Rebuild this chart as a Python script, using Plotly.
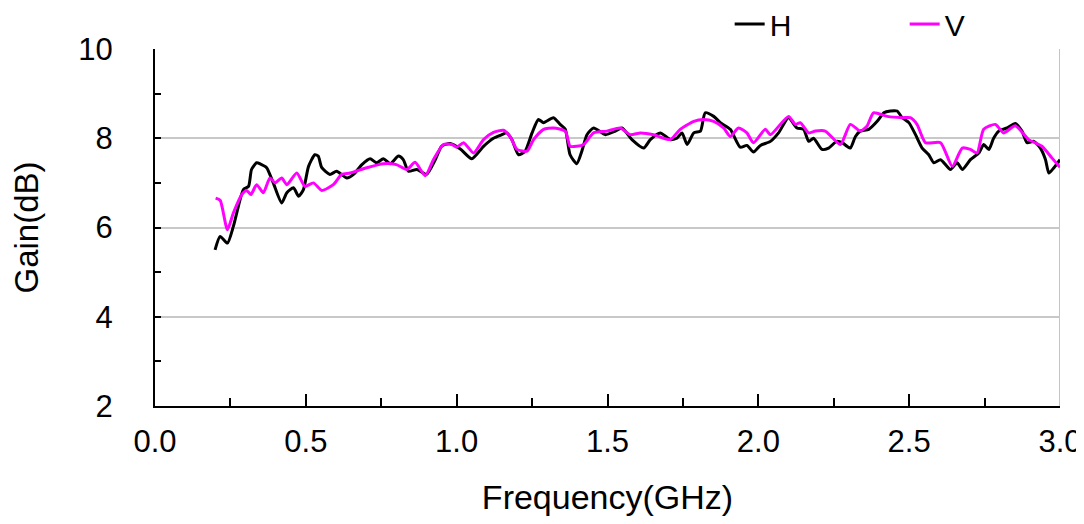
import plotly.graph_objects as go

freq_h = [0.199, 0.216, 0.240, 0.260, 0.293, 0.310, 0.320, 0.337, 0.350, 0.370,
          0.392, 0.420, 0.437, 0.459, 0.476, 0.492, 0.509, 0.530, 0.541, 0.553,
          0.580, 0.602, 0.636, 0.658, 0.686, 0.713, 0.735, 0.757, 0.780, 0.807,
          0.823, 0.840, 0.868, 0.900, 0.929, 0.950, 0.978, 1.012, 1.050, 1.089,
          1.122, 1.150, 1.166, 1.183, 1.205, 1.227, 1.250, 1.271, 1.288, 1.321,
          1.343, 1.360, 1.376, 1.398, 1.415, 1.432, 1.454, 1.493, 1.526, 1.548,
          1.581, 1.620, 1.642, 1.675, 1.708, 1.730, 1.747, 1.764, 1.786, 1.808,
          1.824, 1.852, 1.874, 1.907, 1.940, 1.962, 1.984, 2.007, 2.040, 2.067,
          2.100, 2.128, 2.150, 2.167, 2.183, 2.211, 2.233, 2.260, 2.278, 2.294,
          2.305, 2.322, 2.338, 2.366, 2.394, 2.416, 2.438, 2.460, 2.477, 2.499,
          2.521, 2.543, 2.565, 2.582, 2.604, 2.637, 2.659, 2.676, 2.703, 2.731,
          2.747, 2.764, 2.780, 2.797, 2.825, 2.852, 2.874, 2.891, 2.913, 2.935,
          2.952, 2.963, 2.980, 3.000]
gain_h = [5.50, 5.80, 5.65, 6.03, 6.85, 6.92, 7.30, 7.45, 7.42, 7.34,
          7.00, 6.55, 6.78, 6.89, 6.70, 6.85, 7.37, 7.63, 7.60, 7.34,
          7.19, 7.26, 7.11, 7.19, 7.41, 7.54, 7.45, 7.54, 7.43, 7.60,
          7.52, 7.26, 7.30, 7.19, 7.52, 7.82, 7.88, 7.76, 7.54, 7.82,
          8.00, 8.08, 8.12, 7.97, 7.63, 7.71, 8.12, 8.42, 8.35, 8.46,
          8.31, 8.20, 7.63, 7.43, 7.71, 8.08, 8.23, 8.08, 8.16, 8.23,
          7.97, 7.78, 7.97, 8.12, 7.97, 8.00, 8.12, 7.86, 8.12, 8.16,
          8.57, 8.49, 8.35, 8.20, 7.80, 7.84, 7.69, 7.84, 7.93, 8.12,
          8.46, 8.23, 8.20, 7.93, 8.00, 7.75, 7.78, 7.93, 7.90, 7.82,
          7.78, 8.04, 8.16, 8.20, 8.38, 8.57, 8.61, 8.61, 8.46, 8.35,
          8.08, 7.78, 7.63, 7.45, 7.52, 7.30, 7.45, 7.30, 7.52, 7.67,
          7.86, 7.75, 8.00, 8.16, 8.23, 8.33, 8.16, 7.90, 7.93, 7.78,
          7.52, 7.22, 7.34, 7.52]

freq_v = [0.201, 0.216, 0.240, 0.260, 0.288, 0.304, 0.318, 0.337, 0.359, 0.381,
          0.398, 0.420, 0.437, 0.470, 0.497, 0.525, 0.553, 0.591, 0.619, 0.647,
          0.702, 0.757, 0.800, 0.835, 0.862, 0.896, 0.923, 0.956, 0.984, 1.000,
          1.023, 1.056, 1.089, 1.122, 1.155, 1.177, 1.200, 1.233, 1.255, 1.288,
          1.321, 1.360, 1.376, 1.398, 1.421, 1.454, 1.498, 1.542, 1.575, 1.609,
          1.653, 1.708, 1.741, 1.786, 1.818, 1.852, 1.885, 1.907, 1.934, 1.962,
          1.984, 2.023, 2.040, 2.100, 2.123, 2.139, 2.167, 2.189, 2.222, 2.272,
          2.305, 2.338, 2.360, 2.382, 2.427, 2.477, 2.504, 2.526, 2.554, 2.604,
          2.643, 2.676, 2.703, 2.725, 2.747, 2.786, 2.813, 2.852, 2.896, 2.940,
          2.973, 3.000]
gain_v = [6.66, 6.61, 5.95, 6.33, 6.74, 6.83, 6.74, 6.96, 6.78, 7.11,
          7.00, 7.11, 6.96, 7.22, 6.92, 7.00, 6.83, 6.96, 7.19, 7.22,
          7.34, 7.43, 7.41, 7.30, 7.46, 7.16, 7.52, 7.86, 7.86, 7.80,
          7.90, 7.67, 7.97, 8.13, 8.18, 8.04, 7.75, 7.71, 7.97, 8.20,
          8.23, 8.16, 7.82, 7.82, 7.86, 8.12, 8.16, 8.23, 8.08, 8.12,
          8.08, 7.97, 8.20, 8.38, 8.42, 8.38, 8.23, 8.04, 8.23, 8.12,
          7.90, 8.20, 8.08, 8.49, 8.31, 8.35, 8.12, 8.16, 8.16, 7.86,
          8.31, 8.16, 8.27, 8.57, 8.49, 8.46, 8.46, 8.31, 7.90, 7.90,
          7.37, 7.78, 7.75, 7.67, 8.20, 8.31, 8.12, 8.28, 7.97, 7.82,
          7.56, 7.35]

FONT = "Liberation Sans, Arial, sans-serif"

fig = go.Figure()
fig.add_trace(go.Scatter(x=freq_h, y=gain_h, name="H", mode="lines",
                         line=dict(color="black", width=3, shape="spline", smoothing=0.6)))
fig.add_trace(go.Scatter(x=freq_v, y=gain_v, name="V", mode="lines",
                         line=dict(color="#ff00ff", width=3, shape="spline", smoothing=0.6)))

# light frame line on the right like the original
fig.add_shape(type="line", xref="x", yref="y", x0=3, x1=3, y0=2, y1=10,
              line=dict(color="#b0b0b0", width=1.5), layer="below")

# page body adds 8px, so the figure is a bit smaller than the window
fig.update_layout(
    width=1076, height=516,
    margin=dict(l=147, r=24, t=41, b=118, autoexpand=False),
    paper_bgcolor="white", plot_bgcolor="white",
    font=dict(family=FONT, size=31, color="black"),
    legend=dict(orientation="h", x=0.635, xanchor="left", y=1.07, yanchor="middle",
                entrywidth=130, entrywidthmode="pixels", font=dict(size=30),
                bgcolor="rgba(0,0,0,0)"),
    showlegend=True,
)
fig.update_xaxes(
    range=[0, 3], tick0=0, dtick=0.5, tickformat=".1f",
    showline=True, linecolor="black", linewidth=2,
    ticks="inside", ticklen=12, tickwidth=2, tickcolor="black",
    minor=dict(dtick=0.25, ticks="inside", ticklen=8, tickwidth=2, tickcolor="black"),
    showgrid=False, zeroline=False, ticklabelstandoff=7,
    title=dict(text="Frequency(GHz)", standoff=27, font=dict(size=34)),
)
fig.update_yaxes(
    range=[2, 10], tick0=2, dtick=2,
    showline=True, linecolor="black", linewidth=2,
    ticks="inside", ticklen=6, tickwidth=2, tickcolor="black",
    minor=dict(dtick=1, ticks="inside", ticklen=6, tickwidth=2, tickcolor="black"),
    showgrid=True, gridcolor="#c8c8c8", gridwidth=1.5, zeroline=False,
    ticklabelstandoff=34,
    title=dict(text="Gain(dB)", standoff=33, font=dict(size=33)),
)

fig.write_html("out.html")
